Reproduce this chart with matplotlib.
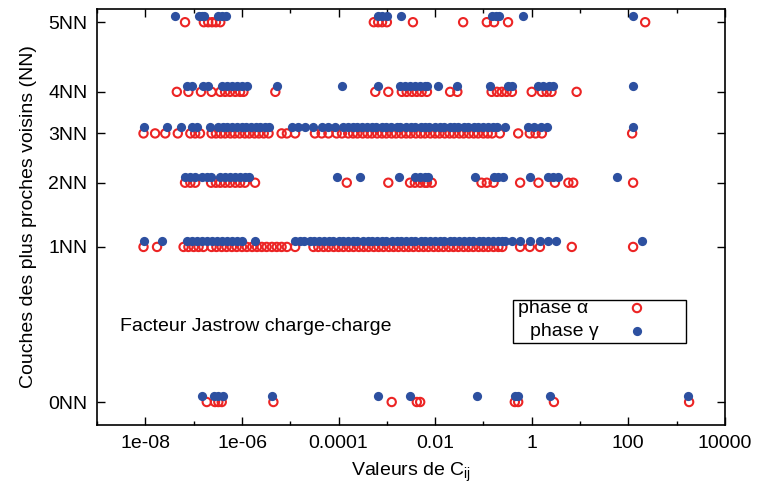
import numpy as np
import matplotlib
matplotlib.use("Agg")
import matplotlib.pyplot as plt
from matplotlib.patches import Rectangle

plt.rcParams['font.family'] = ['Liberation Sans', 'DejaVu Sans']

# Shell labels and their (distance-like) positions on the y axis
shell_labels = ["0NN", "1NN", "2NN", "3NN", "4NN", "5NN"]
shell_pos = [0.0, 1.0, 1.414, 1.732, 2.0, 2.449]

# log10 of C_ij values, phase alpha (red open circles)
a0 = [-6.73, -6.56, -6.49, -6.42, -5.35, -2.90, -2.38, -2.31, -0.35, -0.28, 0.46, 3.26]
a1 = [-8.04, -7.76, -7.21, -7.11, -7.00, -6.90, -6.80,
      -6.63, -6.53, -6.42, -6.32, -6.21, -6.11, -6.00, -5.90, -5.79, -5.69,
      -5.59, -5.49, -5.38, -5.28, -5.18, -5.07, -4.90,
      -4.52, -4.42, -4.31, -4.21, -4.10, -4.00, -3.90, -3.79, -3.69, -3.58,
      -3.48, -3.38, -3.27, -3.17, -3.07, -2.96, -2.86, -2.76, -2.65, -2.55,
      -2.45, -2.34, -2.24, -2.14, -2.03, -1.93, -1.83, -1.72, -1.62, -1.52,
      -1.41, -1.31, -1.21, -1.10, -1.00, -0.90, -0.79, -0.69, -0.61,
      -0.24, -0.04, 0.17, 0.83, 2.10]
a2 = [-7.18, -7.07, -6.97, -6.64, -6.54, -6.45, -6.35, -6.25, -6.14, -6.04,
      -5.94, -5.73, -3.83, -2.97, -2.52, -2.42, -2.31, -2.21, -2.17, -2.07,
      -1.04, -0.93, -0.79, -0.24, 0.14, 0.48, 0.76, 0.86, 2.10]
a3 = [-8.04, -7.80, -7.59, -7.33, -7.07, -6.97, -6.87,
      -6.63, -6.54, -6.44, -6.35, -6.24, -6.15, -6.05, -5.94, -5.85, -5.74,
      -5.65, -5.55, -5.45, -5.18, -5.07, -4.90, -4.49, -4.35, -4.21, -4.04,
      -3.93, -3.80, -3.70, -3.61, -3.50, -3.40, -3.31, -3.20, -3.10, -3.01,
      -2.90, -2.81, -2.70, -2.60, -2.51, -2.40, -2.30, -2.21, -2.10, -2.00,
      -1.91, -1.80, -1.70, -1.61, -1.50, -1.41, -1.30, -1.20, -1.11, -1.00,
      -0.91, -0.82, -0.66, -0.28, -0.04, 0.08, 0.21, 2.08]
a4 = [-7.35, -7.11, -6.85, -6.63, -6.45, -6.35, -6.25, -6.14, -6.04, -5.97,
      -5.31, -3.24, -2.97, -2.69, -2.59, -2.48, -2.38, -2.28, -2.17, -1.69,
      -1.54, -0.83, -0.72, -0.62, -0.52, -0.41, 0.00, 0.21, 0.31, 0.41, 0.93]
a5 = [-7.18, -6.79, -6.70, -6.62, -6.54, -6.45, -3.27, -3.18, -3.10, -3.00,
      -2.46, -1.42, -0.93, -0.78, -0.49, 2.35]

# log10 of C_ij values, phase gamma (blue filled circles)
g0 = [-6.82, -6.59, -6.50, -6.40, -5.38, -3.19, -2.52, -1.13, -0.35, -0.28, 0.38, 3.24]
g1 = [-8.04, -7.66,
      -7.14, -7.04, -6.93, -6.83, -6.72, -6.62, -6.51, -6.41, -6.31, -6.20,
      -6.10, -6.00, -5.73,
      -4.90, -4.80, -4.71, -4.60, -4.50, -4.41, -4.30, -4.20, -4.11, -4.00,
      -3.91, -3.80, -3.70, -3.61, -3.50, -3.40, -3.31, -3.20, -3.10, -3.01,
      -2.90, -2.80, -2.71, -2.60, -2.50, -2.41, -2.30, -2.20, -2.11, -2.00,
      -1.90, -1.81, -1.70, -1.60, -1.51, -1.40, -1.30, -1.21, -1.10, -1.00,
      -0.91, -0.80, -0.70, -0.61, -0.55,
      -0.41, -0.24, -0.04, 0.17, 0.34, 0.50, 2.28]
g2 = [-7.19, -7.07, -6.97, -6.83, -6.73, -6.64, -6.45, -6.35, -6.25, -6.14,
      -6.04, -5.94, -5.85, -4.04, -3.55, -2.75, -2.42, -2.31, -2.21, -2.14,
      -1.17, -0.79, -0.69, -0.59, -0.04, 0.33, 0.45, 0.55, 1.76]
g3 = [-8.04, -7.56, -7.26, -7.04, -6.94, -6.66,
      -6.49, -6.40, -6.31, -6.20, -6.11, -6.01, -5.92, -5.82, -5.71, -5.62,
      -5.53, -5.45, -4.97, -4.83, -4.69, -4.52, -4.35, -4.21, -4.07,
      -3.90, -3.81, -3.70, -3.61, -3.52, -3.41, -3.30, -3.22, -3.11, -3.02,
      -2.91, -2.80, -2.72, -2.61, -2.50, -2.41, -2.30, -2.21, -2.12, -2.01,
      -1.90, -1.81, -1.70, -1.61, -1.52, -1.40, -1.31, -1.20, -1.11, -1.00,
      -0.91, -0.81, -0.72, -0.55, -0.08, 0.05, 0.20, 0.32, 2.10]
g4 = [-7.14, -7.04, -6.80, -6.70, -6.42, -6.31, -6.21, -6.11, -6.00, -5.90,
      -5.28, -3.93, -3.19, -2.73, -2.62, -2.52, -2.42, -2.31, -2.21, -2.17,
      -1.95, -1.54, -0.86, -0.50, -0.40, 0.14, 0.24, 0.36, 0.45, 2.10]
g5 = [-7.39, -6.89, -6.83, -6.79, -6.50, -6.41, -6.33, -3.18, -3.10, -3.00,
      -2.71, -0.82, -0.74, -0.68, -0.18, 2.10]

alpha_rows = [a0, a1, a2, a3, a4, a5]
gamma_rows = [g0, g1, g2, g3, g4, g5]

xtick_vals = [1e-8, 1e-6, 1e-4, 1e-2, 1, 1e2, 1e4]
xtick_labels = ["1e-08", "1e-06", "0.0001", "0.01", "1", "100", "10000"]
xminor_vals = [1e-9, 1e-7, 1e-5, 1e-3, 1e-1, 1e1, 1e3]

RED = '#ec2424'
BLUE = '#2d50a0'
gamma_shift = 0.04

fig = plt.figure(figsize=(7.59, 4.93), dpi=100)
ax = fig.add_axes([0.128, 0.138, 0.827, 0.844])

for pos, row in zip(shell_pos, alpha_rows):
    x = 10 ** np.array(row)
    ax.scatter(x, np.full(len(x), pos), s=36, facecolors='none',
               edgecolors=RED, linewidths=1.5, zorder=2)
for pos, row in zip(shell_pos, gamma_rows):
    x = 10 ** np.array(row)
    ax.scatter(x, np.full(len(x), pos + gamma_shift), s=44, color=BLUE,
               linewidths=0, zorder=3)

ax.set_xscale('log')
ax.set_xlim(1e-9, 1e4)
ax.set_ylim(-0.148, 2.535)
ax.set_xticks(xtick_vals)
ax.set_xticklabels(xtick_labels)
ax.set_xticks(xminor_vals, minor=True)
ax.xaxis.set_minor_formatter(matplotlib.ticker.NullFormatter())
ax.set_yticks(shell_pos)
ax.set_yticklabels(shell_labels)

ax.tick_params(axis='both', which='major', direction='in', top=True, right=True,
               length=6, width=1.0, labelsize=14, pad=7)
ax.tick_params(axis='x', which='minor', direction='in', top=True, bottom=True,
               length=3, width=1.0)
for sp in ax.spines.values():
    sp.set_linewidth(1.2)

ax.set_xlabel("Valeurs de C$_{\\mathregular{ij}}$", fontsize=14, labelpad=6)
ax.set_ylabel("Couches des plus proches voisins (NN)", fontsize=14, labelpad=8)

ax.text(0.037, 0.236, "Facteur Jastrow charge-charge", transform=ax.transAxes,
        fontsize=14, va='center', ha='left')

# legend box (gnuplot style)
ax.add_patch(Rectangle((0.662, 0.197), 0.276, 0.103, transform=ax.transAxes,
                       fill=False, edgecolor='black', linewidth=1.0, zorder=4))
ax.text(0.670, 0.279, "phase α", transform=ax.transAxes, fontsize=14,
        va='center', ha='left')
ax.text(0.689, 0.224, "phase γ", transform=ax.transAxes, fontsize=14,
        va='center', ha='left')
ax.scatter([0.86], [0.281], s=36, facecolors='none', edgecolors=RED,
           linewidths=1.5, transform=ax.transAxes, clip_on=False, zorder=5)
ax.scatter([0.86], [0.226], s=44, color=BLUE, linewidths=0,
           transform=ax.transAxes, clip_on=False, zorder=5)

fig.savefig("out.png", dpi=100)
